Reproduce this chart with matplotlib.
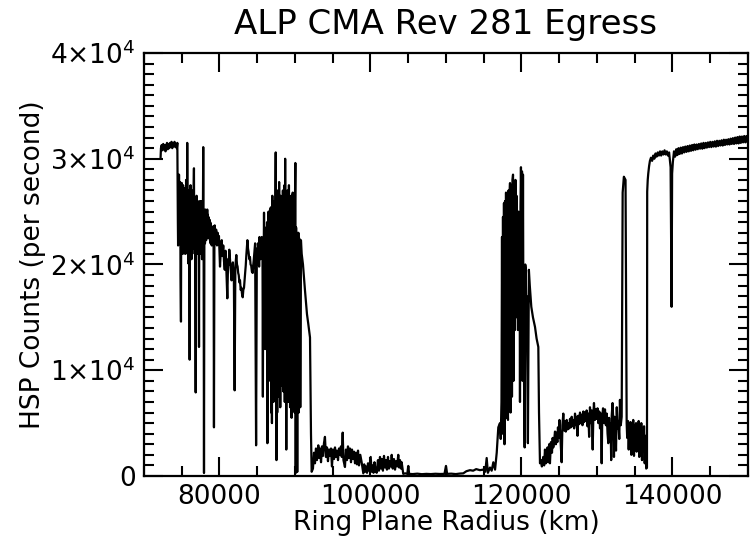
import numpy as np
import matplotlib
matplotlib.use("Agg")
import matplotlib.pyplot as plt
from matplotlib.ticker import MultipleLocator, FuncFormatter

# DATA READ FROM THE PROFILE: (RING PLANE RADIUS IN KM, HSP COUNTS PER SECOND)

# INNER PLATEAU (INSIDE THE C RING)
plateau = [(72200, 30100), (72250, 31000), (72350, 31300), (72450, 30800), (72550, 31400), (72650, 30900),
           (72750, 31300), (72850, 30700), (72950, 31200), (73050, 31500), (73150, 30900), (73250, 31400),
           (73350, 31000), (73450, 31500), (73550, 31100), (73650, 31600), (73750, 31000), (73850, 31500),
           (73950, 31200), (74050, 31600), (74150, 31100), (74250, 31400), (74350, 31000), (74420, 31500)]

# C RING (DENSE PART)
cring = [(74450, 28000), (74490, 24000), (74520, 21800), (74560, 27500), (74600, 23500), (74640, 28500),
         (74680, 22500), (74720, 27000), (74760, 23000), (74800, 27800), (74840, 19000), (74900, 14600),
         (74940, 25500), (74980, 21500), (75020, 27700), (75060, 22000), (75100, 26800), (75140, 21000),
         (75180, 27500), (75220, 22500), (75260, 27000), (75300, 21500), (75340, 26500), (75380, 22000),
         (75420, 27200), (75460, 21000), (75500, 26500), (75540, 22500), (75580, 28000), (75620, 21500),
         (75660, 27000), (75700, 22000), (75730, 31500), (75780, 21000), (75820, 26000), (75870, 20100),
         (75910, 26500), (75950, 21500), (75990, 27000), (76050, 11000), (76090, 26500), (76130, 21000),
         (76170, 27500), (76210, 21500), (76250, 26500), (76290, 20500), (76330, 26800), (76370, 21000),
         (76410, 26000), (76450, 21500), (76490, 27000), (76530, 22000), (76570, 26500), (76620, 29100),
         (76660, 21500), (76700, 26000), (76740, 21000), (76780, 25500), (76850, 7900), (76890, 25000),
         (76930, 21500), (76970, 26500), (77010, 21000), (77050, 25500), (77090, 22000), (77130, 26000),
         (77170, 21500), (77210, 25500), (77250, 22000), (77290, 12200), (77330, 25500), (77370, 21500),
         (77410, 26000), (77450, 21000), (77490, 25800), (77530, 22000), (77570, 26000), (77610, 21500),
         (77650, 25500), (77690, 20500), (77730, 26000), (77770, 22000), (77810, 25500), (77850, 31100),
         (77900, 22000), (77950, 280), (78000, 22500), (78040, 25000), (78080, 22000), (78120, 25200),
         (78160, 22500), (78200, 25000), (78240, 22300), (78280, 24800), (78320, 22500), (78380, 25200),
         (78420, 22800), (78460, 24700), (78500, 22500), (78540, 24500), (78580, 22800), (78620, 24300),
         (78660, 22500), (78700, 24200), (78740, 22300), (78780, 24000), (78820, 22000), (78860, 23800),
         (78900, 22200), (78940, 23600), (78980, 21800), (79020, 23500), (79060, 22000), (79100, 23400),
         (79140, 22300), (79180, 23600), (79220, 22200), (79270, 4600), (79330, 22600), (79370, 23700)]

# C RING (WAVY PART)
cring_wave = [(79480, 22000), (79560, 23300), (79670, 21800), (79760, 23000), (79850, 21900), (79930, 22700),
              (80070, 19800), (80200, 21600), (80300, 22300), (80400, 20800), (80500, 21800), (80600, 20300),
              (80700, 19500), (80800, 21300), (80860, 20600), (81040, 16800), (81150, 20500), (81230, 20000),
              (81300, 21400), (81380, 20600), (81450, 20000), (81520, 19300), (81600, 18500), (81700, 19800),
              (81780, 20200), (81850, 19300), (81900, 19500), (82010, 8100), (82100, 19500), (82160, 20300),
              (82230, 20900), (82320, 20000), (82400, 19800), (82480, 19200), (82550, 19000), (82640, 18300),
              (82720, 18500), (82810, 17600), (82900, 17800), (82990, 17200), (83080, 16900), (83160, 17600),
              (83250, 17800), (83330, 18600), (83400, 19200), (83480, 19900), (83550, 20800), (83630, 21600),
              (83700, 22300), (83780, 21500), (83850, 21200), (83950, 20500), (84040, 20700), (84120, 20000),
              (84200, 19900), (84300, 19300), (84400, 19200), (84480, 20000), (84550, 20500), (84640, 21300),
              (84720, 22000), (84850, 2900), (84950, 21500)]

# OUTER C RING, DENSE SPIKES UP TO THE B RING EDGE
outer_c = [(85000, 21500), (85050, 20000), (85100, 22000), (85150, 20500), (85200, 21500), (85250, 19800),
           (85300, 22600), (85350, 21000), (85400, 21800), (85450, 20500), (85500, 22200), (85550, 21000),
           (85600, 22600), (85650, 20800), (85700, 21500), (85750, 7500), (85800, 21500), (85850, 20000),
           (85900, 24900), (85950, 19500), (86000, 23500), (86050, 12000), (86100, 22800), (86150, 18000),
           (86200, 23000), (86250, 14000), (86300, 24000), (86350, 3100), (86400, 22500), (86450, 14000),
           (86500, 25000), (86550, 9000), (86600, 24500), (86650, 16000), (86700, 25200), (86750, 11000),
           (86800, 25400), (86850, 6000), (86900, 24000), (86950, 5000), (87000, 26500), (87050, 10000),
           (87100, 25000), (87150, 7000), (87200, 26000), (87250, 12000), (87300, 25500), (87350, 8000),
           (87400, 26000), (87450, 30600), (87500, 22000), (87550, 1500), (87600, 24500), (87650, 6000),
           (87700, 27000), (87750, 12000), (87800, 25800), (87850, 7500), (87900, 27800), (87950, 10500),
           (88000, 26000), (88050, 6500), (88100, 26500), (88150, 9000), (88200, 25500), (88250, 11000),
           (88300, 26200), (88350, 8500), (88400, 27000), (88450, 8000), (88500, 25500), (88550, 13000),
           (88600, 27500), (88650, 7000), (88700, 30000), (88750, 11000), (88800, 26000), (88850, 2500),
           (88900, 25000), (88950, 9500), (89000, 27000), (89050, 12000), (89100, 26000), (89150, 7000),
           (89200, 27500), (89250, 10000), (89300, 25500), (89350, 6500), (89400, 24000), (89450, 9500),
           (89500, 26500), (89550, 5500), (89600, 24500), (89650, 8000), (89700, 26800), (89750, 8100),
           (89800, 25000), (89850, 7500), (89900, 23500), (89950, 6000), (90000, 26000), (90050, 29600),
           (90100, 280), (90150, 23500), (90200, 6500), (90250, 23000), (90300, 380), (90350, 22800),
           (90400, 7500), (90450, 23000), (90500, 6000), (90550, 22500), (90600, 7000), (90650, 22300),
           (90700, 6500), (90790, 22300), (90890, 21000), (91060, 20000), (91320, 17600), (91590, 15300),
           (91760, 14400), (91990, 13100), (92120, 4000), (92210, 400)]

# B RING
bring = [(92380, 700), (92520, 2200), (92650, 1200), (92780, 2600), (92910, 1500), (93090, 2900),
         (93200, 1700), (93310, 2600), (93450, 1300), (93580, 2800), (93710, 1900), (93840, 3100),
         (93970, 3700), (94100, 1800), (94240, 2700), (94370, 1400), (94500, 2500), (94640, 1900),
         (94770, 2600), (94900, 900), (95030, 2500), (95170, 1600), (95300, 2700), (95430, 1800),
         (95560, 2400), (95700, 1500), (95830, 2600), (95960, 2000), (96090, 2800), (96200, 1800),
         (96320, 4100), (96420, 1500), (96620, 850), (96750, 2500), (96890, 1500), (97020, 2800),
         (97150, 1700), (97280, 2600), (97420, 1300), (97550, 2500), (97680, 1600), (97820, 2300),
         (97950, 1200), (98080, 2200), (98210, 1100), (98350, 2400), (98480, 1000), (98650, 2000),
         (98830, 1300), (99050, 250), (99170, 1100), (99270, 400), (99400, 900), (99540, 300),
         (99670, 1200), (99800, 500), (100030, 1800), (100150, 400), (100270, 1000), (100400, 300),
         (100530, 1300), (100670, 500), (100820, 300), (100990, 1500), (101120, 500), (101260, 1800),
         (101390, 700), (101520, 1600), (101650, 500), (101790, 1900), (101920, 800), (102050, 1500),
         (102180, 600), (102320, 1800), (102450, 700), (102580, 1400), (102700, 900), (102810, 2000),
         (102950, 700), (103110, 1600), (103250, 600), (103380, 1400), (103530, 900), (103680, 2000),
         (103800, 800), (103910, 1500), (104050, 700), (104130, 1300), (104340, 200), (104600, 250),
         (104880, 200), (105010, 950), (105120, 200), (105600, 180), (106200, 220), (106800, 170),
         (107400, 200), (108000, 180), (108600, 210), (109200, 190), (109800, 200), (110000, 950),
         (110150, 200), (110700, 220), (111300, 180), (111850, 230), (112290, 250), (112700, 450),
         (113180, 550), (113600, 500), (114000, 650), (114500, 550), (114900, 600), (115200, 400),
         (115390, 1700), (115550, 300), (115830, 800), (116050, 500), (116270, 1300), (116500, 600),
         (116720, 2200), (116930, 4600)]

# CASSINI DIVISION
cassini = [(117150, 5000), (117250, 3500), (117350, 7000), (117420, 22600), (117480, 4000), (117550, 24500),
           (117620, 6000), (117680, 25800), (117750, 3000), (117820, 26000), (117880, 8000), (117950, 26800),
           (118020, 5500), (118080, 26500), (118150, 7000), (118210, 5300), (118280, 27000), (118350, 9000),
           (118420, 26500), (118480, 27700), (118550, 6000), (118610, 16600), (118680, 27500), (118740, 7500),
           (118810, 28000), (118880, 28500), (118950, 9000), (119010, 27000), (119080, 14000), (119140, 13800),
           (119200, 28000), (119270, 15000), (119340, 26500), (119400, 17000), (119470, 24500), (119540, 13800),
           (119600, 25000), (119670, 22500), (119740, 24000), (119800, 7000), (119870, 25500), (119930, 29200),
           (120000, 24000), (120070, 28800), (120130, 9000), (120200, 28500), (120270, 10000), (120330, 9700),
           (120420, 2700), (120500, 20000), (120560, 19500), (120650, 14000), (120700, 17000), (120850, 3100),
           (120980, 19500), (121100, 18000), (121300, 16000), (121520, 15000), (121790, 14100), (122000, 13000),
           (122230, 12200), (122320, 6000), (122450, 1200)]

# A RING WITH THE ENCKE GAP SPIKE
aring = [(122580, 1500), (122700, 900), (122880, 1800), (123000, 1000), (123110, 2500), (123240, 1200),
         (123340, 1500), (123450, 2700), (123550, 1300), (123660, 3000), (123770, 1200), (123900, 3200),
         (124040, 2200), (124130, 3600), (124210, 2700), (124330, 3400), (124440, 4200), (124550, 3000),
         (124660, 4100), (124750, 3200), (124830, 4600), (124950, 3600), (125030, 5300), (125100, 4400),
         (125200, 3000), (125320, 1300), (125420, 4800), (125540, 5900), (125650, 4300), (125760, 5200),
         (125870, 4200), (125990, 5300), (126100, 4400), (126200, 5000), (126320, 4500), (126420, 5400),
         (126540, 4600), (126650, 5600), (126760, 4700), (126860, 5300), (126980, 4500), (127090, 5900),
         (127200, 4800), (127310, 5600), (127420, 3800), (127520, 5700), (127640, 4900), (127750, 6000),
         (127860, 5000), (127970, 5800), (128080, 4800), (128190, 6100), (128300, 5100), (128410, 6000),
         (128520, 5200), (128630, 6200), (128740, 4700), (128850, 5900), (128960, 3700), (129070, 6500),
         (129180, 5000), (129300, 6200), (129430, 2500), (129520, 5800), (129600, 6900), (129730, 5300),
         (129840, 6300), (129960, 5400), (130070, 6400), (130170, 5000), (130300, 6100), (130400, 4500),
         (130520, 5900), (130620, 1200), (130700, 5600), (130800, 6400), (130930, 5000), (131060, 6300),
         (131180, 4800), (131290, 5900), (131400, 4000), (131500, 3100), (131600, 5500), (131720, 3400),
         (131800, 5000), (131880, 1500), (131950, 5700), (132060, 6900), (132160, 5200), (132250, 1800),
         (132330, 5600), (132420, 4400), (132520, 2400), (132620, 6500), (132720, 4500), (132830, 5200),
         (132950, 3500), (133040, 7200), (133150, 4800), (133270, 5600), (133400, 26800), (133560, 28300),
         (133780, 28000), (133930, 5000), (134000, 3600), (134110, 5200), (134200, 2500), (134300, 4900),
         (134370, 3300), (134450, 5100), (134550, 2000), (134640, 4700), (134720, 3200), (134800, 5300),
         (134900, 1900), (134980, 4800), (135070, 3000), (135170, 5000), (135250, 2300), (135330, 4600),
         (135430, 3400), (135520, 5200), (135600, 1800), (135690, 4500), (135780, 2800), (135870, 5000),
         (135960, 1500), (136050, 4200), (136140, 2600), (136230, 4700), (136320, 1200), (136420, 3800),
         (136520, 700), (136620, 800)]

# OUTSIDE THE A RING (F RING DIP NEAR 140000 KM)
outer = [(136650, 26900), (136720, 28000), (136790, 28600), (136900, 29300), (137010, 29800), (137150, 30100),
         (137300, 29800), (137450, 30300), (137600, 30000), (137750, 30500), (137900, 30200), (138050, 30600),
         (138200, 30300), (138350, 30700), (138500, 30300), (138650, 30700), (138800, 30400), (138950, 30800),
         (139100, 30400), (139250, 30700), (139400, 30300), (139550, 30600), (139750, 29200), (139880, 16000),
         (139950, 28600), (140050, 29700), (140200, 30700), (140350, 30200), (140500, 30900), (140650, 30350),
         (140800, 31000), (140950, 30450), (141100, 31050), (141250, 30500), (141400, 31100), (141550, 30600),
         (141700, 31150), (141850, 30650), (142000, 31200), (142150, 30700), (142300, 31250), (142450, 30750),
         (142600, 31300), (142750, 30800), (142900, 31350), (143050, 30850), (143200, 31350), (143350, 30900),
         (143500, 31400), (143650, 30950), (143800, 31450), (143950, 30950), (144100, 31500), (144250, 31000),
         (144400, 31500), (144550, 31050), (144700, 31550), (144850, 31100), (145000, 31600), (145150, 31100),
         (145300, 31600), (145450, 31150), (145600, 31650), (145750, 31150), (145900, 31700), (146050, 31200),
         (146200, 31700), (146350, 31250), (146500, 31750), (146650, 31250), (146800, 31800), (146950, 31300),
         (147100, 31800), (147250, 31350), (147400, 31850), (147550, 31350), (147700, 31900), (147850, 31400),
         (148000, 31950), (148150, 31400), (148300, 32000), (148450, 31450), (148600, 32050), (148750, 31450),
         (148900, 32100), (149050, 31500), (149200, 32100), (149350, 31550), (149500, 32150), (149650, 31550),
         (149800, 32150), (149950, 31600)]

segments = [plateau, cring, cring_wave, outer_c, bring, cassini, aring, outer]
profile = np.array([p for seg in segments for p in seg], dtype=float)
radius = profile[:, 0]
counts = profile[:, 1]

# PLOT
fig = plt.figure(figsize=(7.51, 5.42), dpi=100)
ax = fig.add_axes([0.1917, 0.1218, 0.8043, 0.7804])
ax.plot(radius, counts, color="black", linewidth=1.6)

ax.set_xlim(70000, 150000)
ax.set_ylim(0, 40000)
ax.xaxis.set_major_locator(MultipleLocator(20000))
ax.xaxis.set_minor_locator(MultipleLocator(5000))
ax.yaxis.set_major_locator(MultipleLocator(10000))
ax.yaxis.set_minor_locator(MultipleLocator(1000))


def sci_label(v, pos):
    if v == 0:
        return "0"
    return r"$%d{\times}10^{4}$" % round(v / 10000)


ax.yaxis.set_major_formatter(FuncFormatter(sci_label))
ax.tick_params(which="both", direction="in", top=True, right=True, width=1.5, labelsize=19)
ax.tick_params(which="major", length=14, pad=6)
ax.tick_params(which="minor", length=7.5)
for s in ax.spines.values():
    s.set_linewidth(1.6)

ax.set_title("ALP CMA Rev 281 Egress", fontsize=24.5, pad=14)
ax.set_xlabel("Ring Plane Radius (km)", fontsize=19, labelpad=0)
ax.set_ylabel("HSP Counts (per second)", fontsize=19, labelpad=3)

fig.savefig("out.png", dpi=100)
